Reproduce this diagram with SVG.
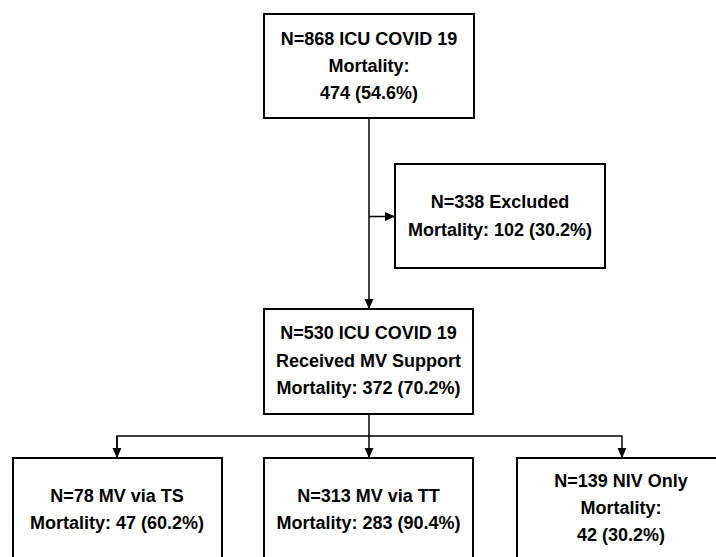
<svg xmlns="http://www.w3.org/2000/svg" width="716" height="557" viewBox="0 0 716 557">
<defs>
<marker id="arr" markerUnits="userSpaceOnUse" markerWidth="10" markerHeight="10" viewBox="0 0 10 10" refX="10" refY="5" orient="auto">
<path d="M0,0.5 L10,5 L0,9.5 Z" fill="#000"/>
</marker>
<style>
.box{fill:#fff;stroke:#000;stroke-width:2}
.t{font-family:"Liberation Sans",Arial,sans-serif;font-size:18px;font-weight:bold;fill:#000;text-anchor:middle}
.c{fill:none;stroke:#000;stroke-width:1.5}
</style>
</defs>
<rect width="716" height="557" fill="#fff"/>
<g id="connectors">
<path class="c" d="M369,118 V309" marker-end="url(#arr)"/>
<path class="c" d="M369,216.5 H395" marker-end="url(#arr)"/>
<path class="c" d="M369,414 V458" marker-end="url(#arr)"/>
<path class="c" d="M117,458 V436 H622 V458" marker-end="url(#arr)"/>
<path class="c" d="M117,436 V458" marker-end="url(#arr)"/>
</g>
<g id="n868">
<rect class="box" x="264" y="14" width="210" height="104"/>
<text class="t" x="369" y="45">N=868 ICU COVID 19</text>
<text class="t" x="369" y="72">Mortality:</text>
<text class="t" x="369" y="99">474 (54.6%)</text>
</g>
<g id="excluded">
<rect class="box" x="395" y="164" width="210" height="104"/>
<text class="t" x="500" y="208">N=338 Excluded</text>
<text class="t" x="500" y="236">Mortality: 102 (30.2%)</text>
</g>
<g id="n530">
<rect class="box" x="264" y="309" width="209" height="105"/>
<text class="t" x="368.5" y="339">N=530 ICU COVID 19</text>
<text class="t" x="368.5" y="367">Received MV Support</text>
<text class="t" x="368.5" y="394">Mortality: 372 (70.2%)</text>
</g>
<g id="ts">
<rect class="box" x="13" y="458" width="209" height="110"/>
<text class="t" x="117" y="502">N=78 MV via TS</text>
<text class="t" x="117" y="529">Mortality: 47 (60.2%)</text>
</g>
<g id="tt">
<rect class="box" x="264" y="458" width="209" height="110"/>
<text class="t" x="368.5" y="502">N=313 MV via TT</text>
<text class="t" x="368.5" y="529">Mortality: 283 (90.4%)</text>
</g>
<g id="niv">
<rect class="box" x="517" y="458" width="209" height="110"/>
<text class="t" x="621" y="487">N=139 NIV Only</text>
<text class="t" x="621" y="514">Mortality:</text>
<text class="t" x="621" y="541">42 (30.2%)</text>
</g>
</svg>
